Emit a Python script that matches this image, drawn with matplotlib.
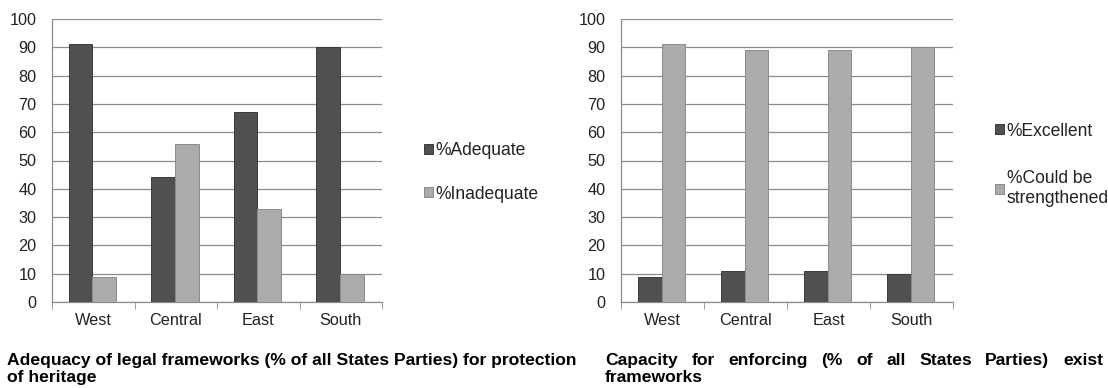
import matplotlib
matplotlib.use('Agg')
import matplotlib.pyplot as plt
import numpy as np

plt.rcParams['font.family'] = ['Liberation Sans', 'DejaVu Sans']

regions = ['West', 'Central', 'East', 'South']
adequate = [91, 44, 67, 90]
inadequate = [9, 56, 33, 10]
excellent = [9, 11, 11, 10]
could_be = [91, 89, 89, 90]

title_left = ['Adequacy of legal frameworks (% of all States Parties) for protection', 'of heritage']
title_right = ['Capacity for enforcing (% of all States Parties) exist', 'frameworks']

W, H = 1108, 388
fig = plt.figure(figsize=(W / 100, H / 100), dpi=100)
renderer = fig.canvas.get_renderer()


def size_for(text, target_px, weight='normal'):
    # font size that makes the text span target_px pixels
    t = fig.text(0, 0, text, fontsize=10, fontweight=weight)
    w = t.get_window_extent(renderer).width
    t.remove()
    return 10 * target_px / w


tick_fs = size_for('100', 27)
leg_fs = size_for('%Adequate', 91)
title_fs = size_for(title_left[0], 570, 'bold')

dark = '#505050'
light = '#ababab'
grid_c = '#8c8c8c'


def draw(rect, s1, s2, lab1, lab2, leg_pos, spacing):
    ax = fig.add_axes(rect)
    x = np.arange(len(regions))
    w = 0.286
    ax.bar(x - w / 2 - 0.01, s1, w, color=dark, edgecolor='#3a3a3a', linewidth=0.7, label=lab1, zorder=3)
    ax.bar(x + w / 2 - 0.01, s2, w, color=light, edgecolor='#8a8a8a', linewidth=0.7, label=lab2, zorder=3)
    ax.set_xlim(-0.5, 3.5)
    ax.set_ylim(0, 100)
    ax.set_yticks(range(0, 101, 10))
    ax.yaxis.grid(True, color=grid_c, linewidth=0.9, zorder=0)
    ax.set_xticks(x)
    ax.set_xticklabels(regions)
    ax.set_xticks(np.arange(-0.5, 4, 1), minor=True)
    ax.tick_params(axis='x', which='major', length=0, pad=8, labelsize=tick_fs, labelcolor='#222222')
    ax.tick_params(axis='x', which='minor', length=5, color=grid_c, direction='out')
    ax.tick_params(axis='y', length=0, pad=11, labelsize=tick_fs, labelcolor='#222222')
    for s in ['top', 'right']:
        ax.spines[s].set_visible(False)
    for s in ['left', 'bottom']:
        ax.spines[s].set_color(grid_c)
        ax.spines[s].set_linewidth(0.9)
    leg = ax.legend(loc='center left', bbox_to_anchor=leg_pos, frameon=False, fontsize=leg_fs,
                    handlelength=0.5, handleheight=0.5, handletextpad=0.15, labelspacing=spacing,
                    borderaxespad=0, borderpad=0)
    for t in leg.get_texts():
        t.set_color('#222222')
    return ax


draw([52 / W, 1 - 302 / H, 330 / W, 283 / H], adequate, inadequate,
     '%Adequate', '%Inadequate', (1.127, 0.458), 1.5)
draw([621 / W, 1 - 302 / H, 332 / W, 283 / H], excellent, could_be,
     '%Excellent', '%Could be\nstrengthened', (1.127, 0.485), 1.75)

fig.canvas.draw()


def justified(line, x0, x1, y):
    words = line.split(' ')
    texts = [fig.text(0, y, wd, fontsize=title_fs, fontweight='bold', va='baseline') for wd in words]
    widths = [t.get_window_extent(renderer).width for t in texts]
    gap = (x1 - x0 - sum(widths)) / (len(words) - 1)
    pos = x0
    for t, wdt in zip(texts, widths):
        t.set_x(pos / W)
        pos += wdt + gap


y1, y2 = 1 - 365 / H, 1 - 382 / H
fig.text(7 / W, y1, title_left[0], fontsize=title_fs, fontweight='bold', va='baseline')
fig.text(7 / W, y2, title_left[1], fontsize=title_fs, fontweight='bold', va='baseline')
justified(title_right[0], 605, 1103, y1)
fig.text(605 / W, y2, title_right[1], fontsize=title_fs, fontweight='bold', va='baseline')

fig.savefig('out.png', dpi=100)
